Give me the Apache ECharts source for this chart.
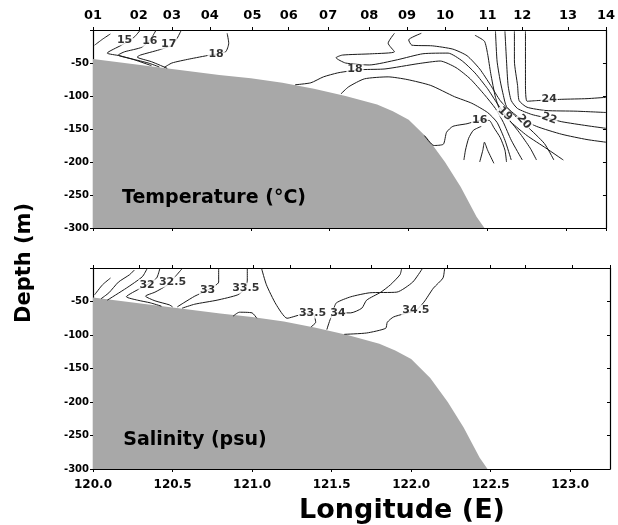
<!DOCTYPE html>
<html>
<head>
<meta charset="utf-8">
<script src="https://cdn.jsdelivr.net/npm/echarts@6/dist/echarts.min.js"></script>
<style>
  html, body { margin: 0; padding: 0; background: #ffffff; }
  #section { width: 618px; height: 525px; }
</style>
</head>
<body>
<div id="section"></div>
<script>
  // stations along the section (top axis)
  var stationNames = ['01', '02', '03', '04', '05', '06', '07', '08', '09', '10', '11', '12', '13', '14'];
  var stationLon = [120.0, 120.29, 120.50, 120.74, 121.01, 121.24, 121.49, 121.75, 121.99, 122.23, 122.50, 122.72, 123.01, 123.25];

  // sea floor, [lon, depth]
  var bottomDepth = [[120.0, -44], [120.2, -50], [120.4, -56], [120.6, -62], [120.8, -68], [121.0, -73], [121.2, -80],
    [121.4, -89], [121.6, -100], [121.8, -113], [121.9, -123], [122.0, -136], [122.12, -164], [122.23, -200],
    [122.33, -238], [122.43, -283], [122.48, -300]];

  // temperature isotherms, [lon, depth]
  var t14 = [[120.01, -23], [120.06, -14], [120.11, -6]];
  var t15 = [[120.30, 0], [120.26, -11], [120.18, -23], [120.09, -35], [120.17, -39], [120.26, -45], [120.37, -54]];
  var t16 = [[120.40, 0], [120.37, -12], [120.31, -26], [120.20, -33], [120.16, -38], [120.25, -44], [120.35, -50], [120.42, -56]];
  var t17 = [[120.56, 0], [120.53, -14], [120.50, -23], [120.42, -30], [120.30, -38], [120.28, -41], [120.37, -48], [120.47, -58]];
  var t18a = [[120.85, -5], [120.86, -20], [120.84, -33], [120.74, -38], [120.61, -44], [120.50, -50], [120.45, -57]];
  var tLens = [[121.91, -5], [121.87, -20], [121.91, -33], [121.77, -36], [121.58, -38], [121.54, -42], [121.60, -50],
    [121.75, -53], [121.93, -45], [122.09, -36], [122.25, -35], [122.34, -47], [122.42, -65], [122.50, -89],
    [122.56, -111], [122.62, -131], [122.70, -155], [122.77, -179], [122.81, -197]];
  var t19 = [[122.08, -5], [122.00, -15], [122.02, -23], [122.15, -24], [122.28, -29], [122.37, -39], [122.45, -59],
    [122.52, -84], [122.58, -107], [122.65, -125], [122.75, -146], [122.86, -172], [122.92, -197]];
  var t20 = [[122.42, -8], [122.48, -17], [122.50, -36], [122.52, -66], [122.55, -102], [122.58, -122], [122.65, -140],
    [122.75, -160], [122.87, -179], [122.98, -197]];
  var t21 = [[122.55, -2], [122.56, -47], [122.58, -77], [122.60, -99], [122.62, -116], [122.69, -131], [122.81, -146],
    [122.97, -158], [123.13, -166], [123.25, -170]];
  var t22 = [[122.61, -2], [122.62, -47], [122.63, -84], [122.65, -107], [122.69, -119], [122.78, -128], [122.89, -134],
    [122.97, -139], [123.13, -145], [123.25, -149]];
  var t23 = [[122.67, -2], [122.67, -47], [122.69, -84], [122.70, -107], [122.75, -117], [122.87, -122], [123.06, -123], [123.25, -125]];
  var t24 = [[122.74, -2], [122.74, -47], [122.74, -84], [122.75, -108], [122.81, -107], [122.97, -105], [123.13, -104], [123.25, -102]];
  var t18b = [[121.28, -83], [121.38, -80], [121.46, -71], [121.55, -65], [121.63, -62], [121.71, -60], [121.85, -59],
    [122.06, -51], [122.20, -47], [122.30, -57], [122.39, -74], [122.48, -98], [122.55, -119], [122.60, -140],
    [122.65, -167], [122.72, -197]];
  var tLower = [[121.57, -97], [121.62, -86], [121.72, -74], [121.87, -71], [121.99, -75], [122.14, -84], [122.29, -101],
    [122.40, -111], [122.50, -125], [122.56, -140], [122.61, -167], [122.65, -197]];
  var t16b = [[122.10, -160], [122.16, -175], [122.22, -173], [122.24, -155], [122.28, -146], [122.37, -142], [122.45, -137],
    [122.51, -137], [122.54, -148], [122.58, -163], [122.61, -182], [122.62, -200]];
  var tFinger = [[122.35, -197], [122.36, -182], [122.38, -164], [122.41, -152], [122.46, -146]];
  var tSpike = [[122.45, -200], [122.47, -182], [122.48, -170], [122.50, -182], [122.54, -202]];
  var tempLines = [t14, t15, t16, t17, t18a, tLens, t19, t20, t21, t22, t23, t24, t18b, tLower, t16b, tFinger, tSpike];

  // isotherm labels, [lon, depth, text]
  var tempLabels = [[120.20, -15, '15'], [120.36, -17, '16'], [120.48, -21, '17'], [120.78, -36, '18'], [121.66, -60, '18'],
    [122.45, -137, '16'], [122.61, -127, '19'], [122.73, -139, '20'], [122.89, -134, '22'], [122.89, -105, '24']];

  // salinity isohalines, [lon, depth]
  var sA = [[120.01, -40], [120.06, -25], [120.11, -15]];
  var sB = [[120.05, -46], [120.10, -37], [120.16, -21], [120.23, -10], [120.26, -3]];
  var sC = [[120.09, -48], [120.21, -30], [120.31, -13], [120.34, -1]];
  var s32 = [[120.42, -1], [120.40, -15], [120.34, -25], [120.30, -30], [120.21, -43], [120.28, -48], [120.36, -52], [120.43, -57]];
  var s325 = [[120.56, -1], [120.52, -12], [120.47, -25], [120.39, -36], [120.33, -42], [120.39, -49], [120.48, -55], [120.50, -58]];
  var s33 = [[120.79, -1], [120.79, -21], [120.72, -33], [120.64, -42], [120.57, -52], [120.53, -58]];
  var s335a = [[120.97, -1], [120.97, -18], [120.96, -30], [120.91, -40], [120.78, -48], [120.64, -54], [120.56, -60]];
  var s335b = [[121.06, -1], [121.09, -25], [121.15, -54], [121.22, -75], [121.30, -70], [121.38, -67], [121.40, -81], [121.37, -88]];
  var s34 = [[121.47, -92], [121.50, -72], [121.54, -67], [121.62, -67], [121.69, -60], [121.72, -48], [121.81, -36],
    [121.87, -25], [121.93, -10], [121.94, -1]];
  var s34b = [[122.07, -1], [122.01, -21], [121.91, -36], [121.74, -37], [121.62, -43], [121.53, -52], [121.51, -63]];
  var s345 = [[122.21, -1], [122.20, -15], [122.14, -30], [122.08, -51], [122.03, -63], [121.89, -73], [121.85, -81],
    [121.84, -90], [121.72, -97], [121.58, -99]];
  var sBump = [[120.88, -72], [120.92, -66], [121.00, -67], [121.03, -75]];
  var saltLines = [sA, sB, sC, s32, s325, s33, s335a, s335b, s34, s34b, s345, sBump];

  var saltLabels = [[120.34, -25, '32'], [120.50, -21, '32.5'], [120.72, -33, '33'], [120.96, -30, '33.5'],
    [121.38, -67, '33.5'], [121.54, -67, '34'], [122.03, -63, '34.5']];

  var labelTilt = {'19': -45, '20': -50, '22': -20};
  var heavy = 'DejaVu Sans';

  var myChart = echarts.init(document.getElementById('section'));

  function lonAxis(gridIndex, showLabels) {
    return {
      type: 'value', gridIndex: gridIndex, position: 'bottom',
      min: 120, max: 123.25, interval: 0.5,
      axisLine: {show: true, onZero: false, lineStyle: {color: '#000', width: 1.2}},
      axisTick: {show: true, length: 3, lineStyle: {color: '#000'}},
      axisLabel: {
        show: showLabels, margin: 10, showMaxLabel: false,
        fontFamily: heavy, fontWeight: 'bold', fontSize: 12, color: '#000',
        formatter: function (v) { return v.toFixed(1); }
      },
      splitLine: {show: false}
    };
  }

  function stationAxis(gridIndex, showLabels) {
    return {
      type: 'value', gridIndex: gridIndex, position: 'top',
      min: 120, max: 123.25,
      axisLine: {show: true, onZero: false, lineStyle: {color: '#000', width: 1.2}},
      axisTick: {show: true, length: 3, customValues: stationLon, lineStyle: {color: '#000'}},
      axisLabel: {
        show: showLabels, margin: 8, customValues: stationLon,
        fontFamily: heavy, fontWeight: 'bold', fontSize: 13, color: '#000',
        formatter: function (v) {
          var best = 0;
          for (var i = 0; i < stationLon.length; i++) {
            if (Math.abs(stationLon[i] - v) < Math.abs(stationLon[best] - v)) best = i;
          }
          return stationNames[best];
        }
      },
      splitLine: {show: false}
    };
  }

  function depthAxis(gridIndex, pos) {
    return {
      type: 'value', gridIndex: gridIndex, position: pos,
      min: -300, max: 0, interval: 50,
      axisLine: {show: true, onZero: false, lineStyle: {color: '#000', width: 1.2}},
      axisTick: {show: true, length: 3, inside: pos === 'right', lineStyle: {color: '#000'}},
      axisLabel: {
        show: pos === 'left', margin: 4,
        fontFamily: heavy, fontWeight: 'bold', fontSize: 10, color: '#000',
        formatter: function (v) { return v === 0 ? '' : String(v); }
      },
      splitLine: {show: false}
    };
  }

  var series = [];
  // sea floor
  [0, 2].forEach(function (ax) {
    series.push({
      type: 'line', xAxisIndex: ax, yAxisIndex: ax, data: bottomDepth,
      symbol: 'none', silent: true, z: 1,
      lineStyle: {width: 0},
      areaStyle: {color: '#a8a8a8', opacity: 1, origin: 'start'}
    });
  });

  tempLines.forEach(function (d) {
    series.push({
      type: 'line', xAxisIndex: 0, yAxisIndex: 0, data: d, symbol: 'none', smooth: 0.2,
      silent: true, z: 3, lineStyle: {color: '#1a1a1a', width: 1}
    });
  });
  saltLines.forEach(function (d) {
    series.push({
      type: 'line', xAxisIndex: 2, yAxisIndex: 2, data: d, symbol: 'none', smooth: 0.2,
      silent: true, z: 3, lineStyle: {color: '#1a1a1a', width: 1}
    });
  });

  function labelSeries(ax, list) {
    return {
      type: 'scatter', xAxisIndex: ax, yAxisIndex: ax, symbolSize: 0, silent: true, z: 5,
      data: list.map(function (p) {
        return {
          value: [p[0], p[1]],
          label: {rotate: labelTilt[p[2]] || 0, formatter: p[2]}
        };
      }),
      label: {
        show: true, position: 'inside',
        fontFamily: heavy, fontWeight: 'bold', fontSize: 11, color: '#000',
        backgroundColor: '#fff', padding: [0, 1]
      }
    };
  }
  series.push(labelSeries(0, tempLabels));
  series.push(labelSeries(2, saltLabels));

  var chartOption = {
    animation: false,
    backgroundColor: '#fff',
    grid: [
      {left: 93, top: 30, width: 517, height: 198},
      {left: 93, top: 268, width: 517, height: 201}
    ],
    xAxis: [lonAxis(0, false), stationAxis(0, true), lonAxis(1, true), stationAxis(1, false)],
    yAxis: [depthAxis(0, 'left'), depthAxis(0, 'right'), depthAxis(1, 'left'), depthAxis(1, 'right')],
    graphic: [
      {type: 'text', x: 214, y: 198, z: 10,
        style: {text: 'Temperature (°C)', fontFamily: heavy, fontWeight: 'bold', fontSize: 19, fill: '#000',
          textAlign: 'center', textVerticalAlign: 'middle'}},
      {type: 'text', x: 195, y: 440, z: 10,
        style: {text: 'Salinity (psu)', fontFamily: heavy, fontWeight: 'bold', fontSize: 19, fill: '#000',
          textAlign: 'center', textVerticalAlign: 'middle'}},
      {type: 'text', x: 25, y: 263, rotation: Math.PI / 2, z: 10,
        style: {text: 'Depth (m)', fontFamily: heavy, fontWeight: 'bold', fontSize: 21, fill: '#000',
          textAlign: 'center', textVerticalAlign: 'middle'}},
      {type: 'text', x: 402, y: 511, z: 10,
        style: {text: 'Longitude (E)', fontFamily: heavy, fontWeight: 'bold', fontSize: 27, fill: '#000',
          textAlign: 'center', textVerticalAlign: 'middle'}}
    ],
    series: series
  };

  myChart.setOption(chartOption);
</script>
</body>
</html>
